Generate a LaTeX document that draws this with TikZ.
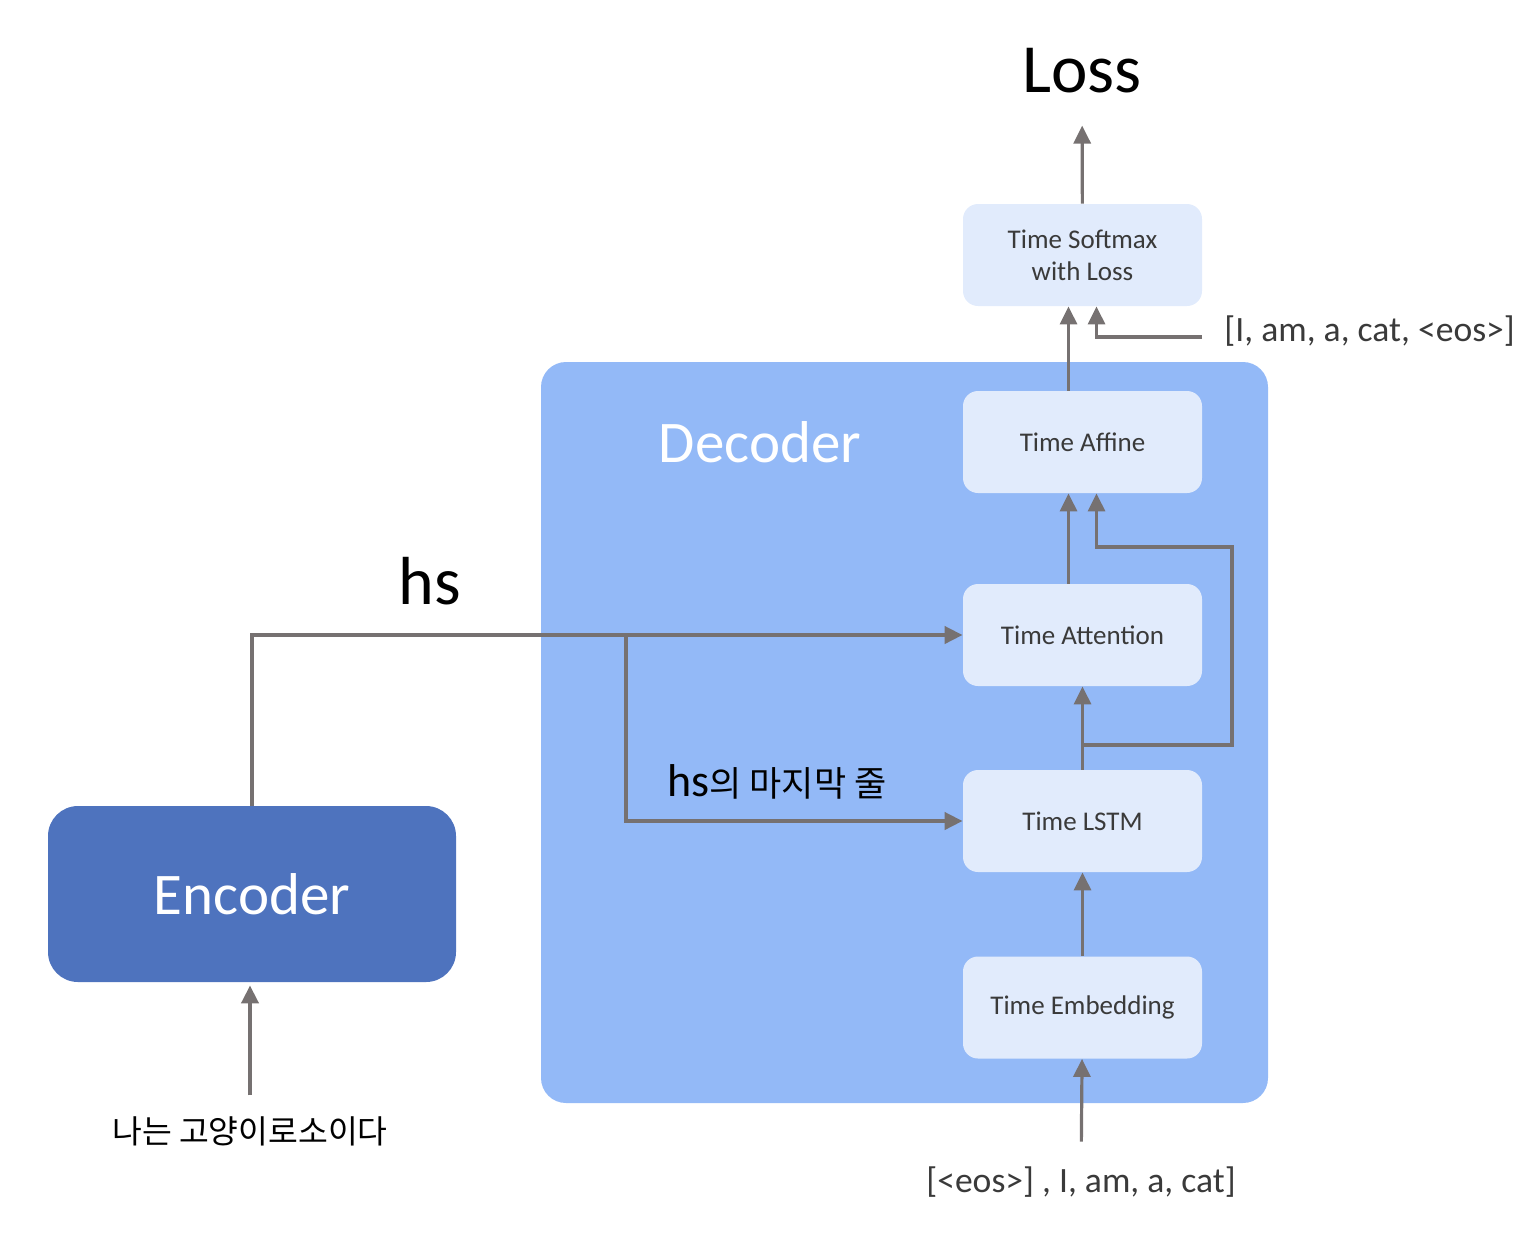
\documentclass[tikz,border=0pt]{standalone}
\usepackage{fontspec}
\setmainfont{Carlito}
\newfontfamily\krfont{Noto Sans CJK KR}
\usetikzlibrary{arrows.meta}

\definecolor{decfill}{HTML}{93B9F7}
\definecolor{layerfill}{HTML}{E1EBFC}
\definecolor{encfill}{HTML}{4E73BE}
\definecolor{wire}{HTML}{767171}
\definecolor{layertext}{HTML}{3A3A3A}

\tikzset{
	layer/.style={fill=layerfill, rounded corners=7.5pt, minimum width=119.5pt, minimum height=51pt, align=center, text=layertext, font=\fontsize{13.5}{16}\selectfont},
	wirearrow/.style={draw=wire, line width=1.6pt, -{Triangle[width=8.5pt,length=9pt]}},
	hsarrow/.style={wirearrow, line width=2pt},
}

\begin{document}
\begin{tikzpicture}[x=0.5pt, y=-0.5pt]
		\useasboundingbox (0,0) rectangle (1536,1238);
		\node (decoder) [fill=decfill, rounded corners=12.5pt, minimum width=363.5pt, minimum height=370.5pt] at (904.5,732.5) {};
		\node (declabel) [anchor=base, text=white, font=\fontsize{29.5}{34}\selectfont] at (760,462) {Decoder};
		\node (encoder) [fill=encfill, rounded corners=15pt, minimum width=204pt, minimum height=88pt, text=white, font=\fontsize{29.5}{34}\selectfont] at (252,894) {Encoder};
		
		\node (softmax) [layer] at (1082.5,255) {Time Softmax\\with Loss};
		\node (affine) [layer] at (1082.5,442) {Time Affine};
		\node (attention) [layer] at (1082.5,635) {Time Attention};
		\node (lstm) [layer] at (1082.5,821) {Time LSTM};
		\node (embed) [layer] at (1082.5,1007.5) {Time Embedding};
		
		\node (loss) [anchor=base, font=\fontsize{34.5}{40}\selectfont] at (1082,92) {Loss};
		\node (hs) [anchor=base, font=\fontsize{34}{40}\selectfont] at (430,604) {hs};
		\node (hslast) [anchor=base] at (777,796) {{\fontsize{23}{28}\selectfont hs}{\krfont\fontsize{17.5}{20}\selectfont 의 마지막 줄}};
		\node (target) [anchor=west, inner xsep=11pt, text=layertext, font=\fontsize{17.8}{22}\selectfont] at (1202,331) {[I, am, a, cat, <eos>]};
		\node (decinput) [text=layertext, font=\fontsize{17.8}{22}\selectfont] at (1081,1182) {[<eos>] , I, am, a, cat]};
		\node (source) [font=\krfont\fontsize{16.2}{19}\selectfont] at (250,1131) {나는 고양이로소이다};
		
		\coordinate (hsfork) at (626,635);
		\coordinate (lstmout) at (1082.5,745);
		\coordinate (skip) at (1232,547);
		
		\draw[wirearrow, shorten >=13pt] (softmax) -- (loss);
		\draw[wirearrow] ([xshift=-7pt]affine.north) -- ([xshift=-7pt]softmax.south);
		\draw[wirearrow] ([yshift=-3pt]target.west) -| ([xshift=7pt]softmax.south);
		\draw[wirearrow] ([xshift=-7pt]attention.north) -- ([xshift=-7pt]affine.south);
		\draw[wirearrow] (lstm) -- (attention);
		\draw[wirearrow] (lstmout) -| (skip) -| ([xshift=7pt]affine.south);
		\draw[wirearrow] (embed) -- (lstm);
		\draw[wirearrow, shorten <=9pt] (decinput) -- (embed);
		\draw[hsarrow] (encoder) |- (attention);
		\draw[hsarrow] (hsfork) |- (lstm);
		\draw[hsarrow, shorten <=7pt, shorten >=1.5pt] (source) -- (source |- encoder.south);
	\end{tikzpicture}
\end{document}
